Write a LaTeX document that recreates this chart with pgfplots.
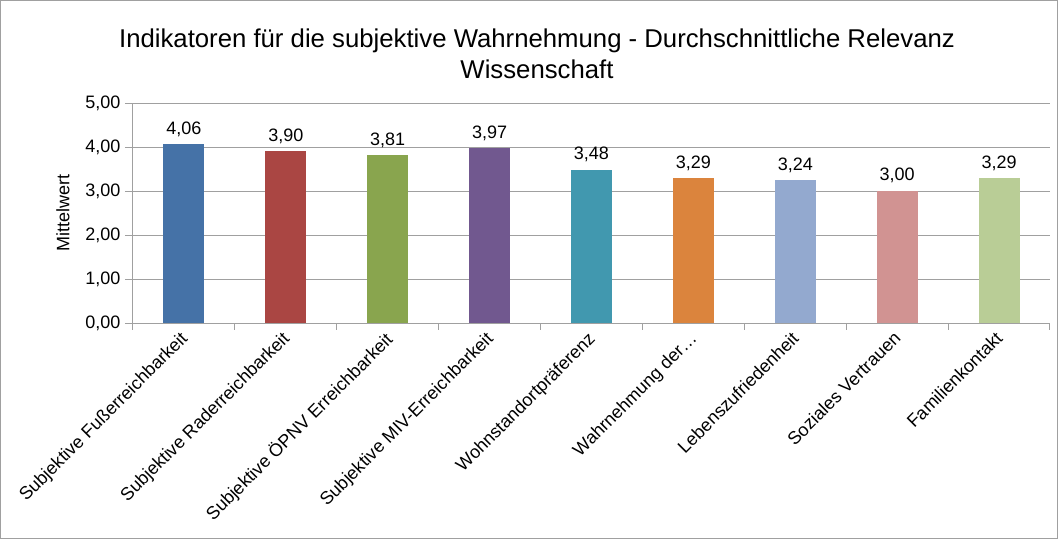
\documentclass[border=0pt]{standalone}
\usepackage{pgfplots}
\pgfplotsset{compat=1.18}
\usepackage{fontspec}
\setmainfont{Liberation Sans}
\definecolor{c1}{HTML}{4572A7}
\definecolor{c2}{HTML}{AA4643}
\definecolor{c3}{HTML}{89A54E}
\definecolor{c4}{HTML}{71588F}
\definecolor{c5}{HTML}{4198AF}
\definecolor{c6}{HTML}{DB843D}
\definecolor{c7}{HTML}{93A9CF}
\definecolor{c8}{HTML}{D19392}
\definecolor{c9}{HTML}{B9CD96}
\definecolor{gridc}{HTML}{A0A0A0}
\begin{document}
\begin{tikzpicture}[x=0.75pt,y=0.75pt]
\begin{axis}[
  at={(0pt,0pt)}, anchor=south west,
  scale only axis, width=687.75pt, height=165pt,
  ybar, bar width=30.75pt, bar shift=0pt,
  xmin=-0.5, xmax=8.5, ymin=0, ymax=5,
  ytick={0,1,2,3,4,5},
  xtick={0,...,8},
  xticklabels={Subjektive Fußerreichbarkeit,Subjektive Raderreichbarkeit,Subjektive ÖPNV Erreichbarkeit,Subjektive MIV-Erreichbarkeit,Wohnstandortpräferenz,Wahrnehmung der\ldots,Lebenszufriedenheit,Soziales Vertrauen,Familienkontakt},
  minor xtick={-0.5,0.5,...,8.5},
  major x tick style={draw=none},
  tick style={gridc, line width=0.75pt},
  xtick pos=bottom, ytick pos=left,
  tick align=outside,
  major tick length=6pt, minor tick length=5pt,
  axis x line*=bottom, axis y line*=left,
  axis line style={gridc, line width=0.75pt, -},
  ymajorgrids, grid style={gridc, line width=0.75pt},
  /pgf/number format/assume math mode=true,
  yticklabel style={font=\fontsize{13.5}{16}\selectfont, /pgf/number format/.cd, fixed, fixed zerofill, precision=2, use comma},
  xticklabel style={font=\fontsize{13.5}{16}\selectfont, rotate=45, anchor=north east, inner sep=2pt, xshift=0pt, yshift=5pt},
  nodes near coords,
  every node near coord/.append style={font=\fontsize{13.5}{16}\selectfont, yshift=2.25pt, /pgf/number format/.cd, fixed, fixed zerofill, precision=2, use comma},
  nodes near coords align={vertical},
  every axis plot/.append style={draw=none},
  clip=false,
]
\addplot[fill=c1] coordinates {(0,4.06)};
\addplot[fill=c2] coordinates {(1,3.90)};
\addplot[fill=c3] coordinates {(2,3.81)};
\addplot[fill=c4] coordinates {(3,3.97)};
\addplot[fill=c5] coordinates {(4,3.48)};
\addplot[fill=c6] coordinates {(5,3.29)};
\addplot[fill=c7] coordinates {(6,3.24)};
\addplot[fill=c8] coordinates {(7,3.00)};
\addplot[fill=c9] coordinates {(8,3.29)};
\end{axis}
\draw[gridc, line width=0.75pt] (-132.5,-215.5) rectangle (924.5,322.5);
\node[font=\fontsize{19.3}{23}\selectfont, align=center] at (404,269) {Indikatoren für die subjektive Wahrnehmung - Durchschnittliche Relevanz\\[0pt]Wissenschaft};
\node[font=\fontsize{13.5}{16}\selectfont, rotate=90] at (-70,110) {Mittelwert};
\end{tikzpicture}
\end{document}
